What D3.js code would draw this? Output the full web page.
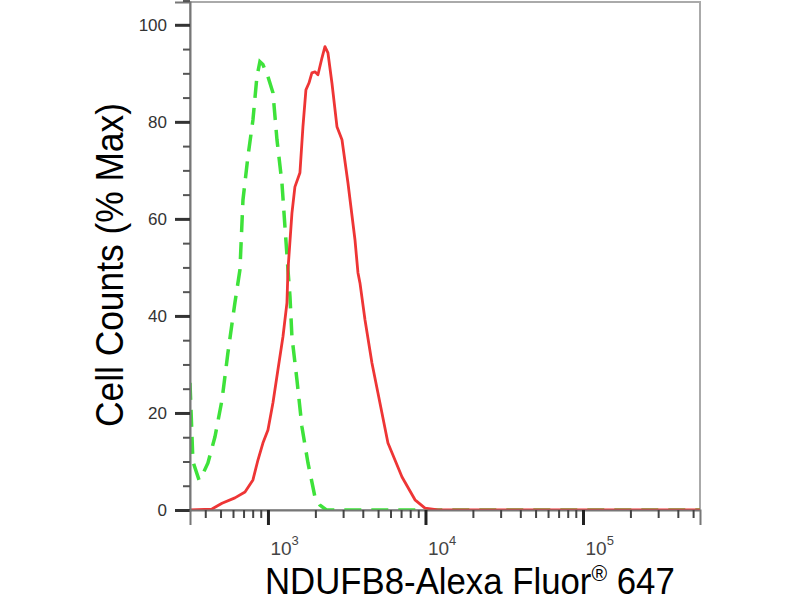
<!DOCTYPE html>
<html>
<head>
<meta charset="utf-8">
<script src="https://cdn.jsdelivr.net/npm/d3@7"></script>
<style>
  body { margin: 0; background: #fff; }
  svg { display: block; font-family: "Liberation Sans", Arial, sans-serif; }
</style>
</head>
<body>
<div id="my_dataviz_hist"></div>
<script>
// values: fluorescence intensity vs % of max
const stainedIntensity = [320, 441, 511, 617, 715, 803, 864, 929, 1000, 1076, 1157, 1245, 1320, 1340, 1420, 1483, 1596, 1668, 1742, 1821, 1901, 1988, 2077, 2203, 2301, 2404, 2548, 2742, 2951, 3221, 3568, 3727, 3838, 4130, 4573, 4993, 5778, 7096, 8577, 9931, 12000, 553000];
const stainedPct = [0, 0.2, 1.4, 2.5, 3.7, 6.2, 10.3, 13.8, 16.5, 22.1, 28.9, 35.7, 42.7, 49.5, 61.2, 66.6, 69.5, 79.0, 86.6, 88.0, 90.1, 90.3, 89.7, 93.2, 95.5, 94.2, 88.0, 79.0, 76.3, 67.4, 55.7, 48.9, 46.8, 39.2, 30.3, 24.1, 13.8, 6.8, 2.1, 0.4, 0, 0];

const controlIntensity = [320, 334, 365, 387, 416, 461, 511, 557, 617, 664, 694, 746, 803, 851, 889, 929, 1000, 1076, 1141, 1227, 1282, 1340, 1380, 1420, 1528, 1644, 1795, 1988, 2138, 2350, 553000];
const controlPct = [26.2, 10, 6.2, 7.5, 9.7, 15.1, 22.7, 32.4, 42.7, 49.5, 63.9, 72.8, 80.4, 89.3, 92.4, 91.8, 89.3, 86.0, 76.3, 67.4, 58.4, 49.5, 44, 35.7, 26.8, 17.1, 9.7, 2.7, 1.0, 0, 0];

const yMajorTicks = [0, 20, 40, 60, 80, 100];
const yMinorTicks = [5, 10, 15, 25, 30, 35, 45, 50, 55, 65, 70, 75, 85, 90, 95, 105];
const xMajorTicks = [1e3, 1e4, 1e5];
const xMajorExp = ["3", "4", "5"];
const xMinorTicks = [400, 500, 600, 700, 800, 900, 2e3, 3e3, 4e3, 5e3, 6e3, 7e3, 8e3, 9e3, 2e4, 3e4, 4e4, 5e4, 6e4, 7e4, 8e4, 9e4, 2e5, 3e5, 4e5, 5e5];
const xDomain = [320, 553000];
const yDomain = [0, 104.7];

const margin = {top: 2, right: 100, bottom: 90, left: 190};
const width = 800 - margin.left - margin.right;
const height = 600 - margin.top - margin.bottom;

const svg = d3.select("#my_dataviz_hist")
  .append("svg")
    .attr("width", 800)
    .attr("height", 600)
  .append("g")
    .attr("transform", `translate(${margin.left}, ${margin.top})`);

const x = d3.scaleLog().domain(xDomain).range([0, width]);
const y = d3.scaleLinear().domain(yDomain).range([height, 0]);

svg.append("clipPath").attr("id", "plotclip")
  .append("rect").attr("x", 0).attr("y", 0).attr("width", width).attr("height", height);

// frame (top + right lighter)
svg.append("rect")
  .attr("x", 0).attr("y", 0).attr("width", width).attr("height", height)
  .attr("fill", "none").attr("stroke", "#aaa").attr("stroke-width", 2);

const line = d3.line()
  .x(d => x(d[0]))
  .y(d => y(d[1]));

const control = controlIntensity.map((v, i) => [v, controlPct[i]]);
const stained = stainedIntensity.map((v, i) => [v, stainedPct[i]]);

svg.append("path")
  .attr("clip-path", "url(#plotclip)")
  .attr("d", line(control))
  .attr("fill", "none")
  .attr("stroke", "#3ee23a")
  .attr("stroke-width", 3.5)
  .attr("stroke-dasharray", "17,10");

svg.append("path")
  .attr("clip-path", "url(#plotclip)")
  .attr("d", line(stained))
  .attr("fill", "none")
  .attr("stroke", "#ee3535")
  .attr("stroke-width", 2.8)
  .attr("stroke-linejoin", "round");

// y axis
const yAxisMajor = d3.axisLeft(y).tickValues(yMajorTicks).tickSize(15).tickPadding(8).tickFormat(d3.format("d"));
const gy = svg.append("g").call(yAxisMajor);
gy.select(".domain").attr("stroke", "#777").attr("stroke-width", 2);
gy.selectAll(".tick line").attr("stroke", "#333").attr("stroke-width", 3);
gy.selectAll(".tick text")
  .attr("fill", "#333")
  .style("font-size", "17px")
  .style("font-family", "'Liberation Sans', Arial, sans-serif");

svg.append("g")
  .call(d3.axisLeft(y).tickValues(yMinorTicks).tickSize(7).tickFormat(""))
  .call(g => g.select(".domain").remove())
  .selectAll(".tick line").attr("stroke", "#555").attr("stroke-width", 2);

// x axis
const gx = svg.append("g")
  .attr("transform", `translate(0, ${height})`)
  .call(d3.axisBottom(x).tickValues(xMajorTicks).tickSize(15).tickFormat(""));
gx.select(".domain").attr("stroke", "#777").attr("stroke-width", 2);
gx.selectAll(".tick line").attr("stroke", "#222").attr("stroke-width", 3);

const lab = gx.selectAll(".tick").append("text")
  .attr("x", 2)
  .attr("y", 45)
  .attr("fill", "#444")
  .attr("text-anchor", "start")
  .style("font-size", "19px")
  .style("font-family", "'Liberation Sans', Arial, sans-serif");
lab.append("tspan").text("10");
lab.append("tspan")
  .attr("dy", -10)
  .style("font-size", "13px")
  .text((d, i) => xMajorExp[i]);

svg.append("g")
  .attr("transform", `translate(0, ${height})`)
  .call(d3.axisBottom(x).tickValues(xMinorTicks).tickSize(8).tickFormat(""))
  .call(g => g.select(".domain").remove())
  .selectAll(".tick line").attr("stroke", "#444").attr("stroke-width", 2);

// axis titles
const xTitle = svg.append("text")
  .attr("fill", "#000")
  .style("font-size", "36px");
xTitle.append("tspan").text("NDUFB8-Alexa Fluor");
xTitle.append("tspan").attr("dy", -13).style("font-size", "22px").text("®");
xTitle.append("tspan").attr("dy", 13).text(" 647");
const xw = xTitle.node().getBBox().width;
xTitle.attr("transform", `translate(${265 - margin.left}, ${594 - margin.top}) scale(${410 / xw}, 1)`);

const yTitle = svg.append("text")
  .attr("fill", "#000")
  .style("font-size", "38px")
  .text("Cell Counts (% Max)");
const yw = yTitle.node().getBBox().width;
yTitle.attr("transform", `translate(${123 - margin.left}, ${427 - margin.top}) rotate(-90) scale(${324 / yw}, 1)`);
</script>
</body>
</html>
